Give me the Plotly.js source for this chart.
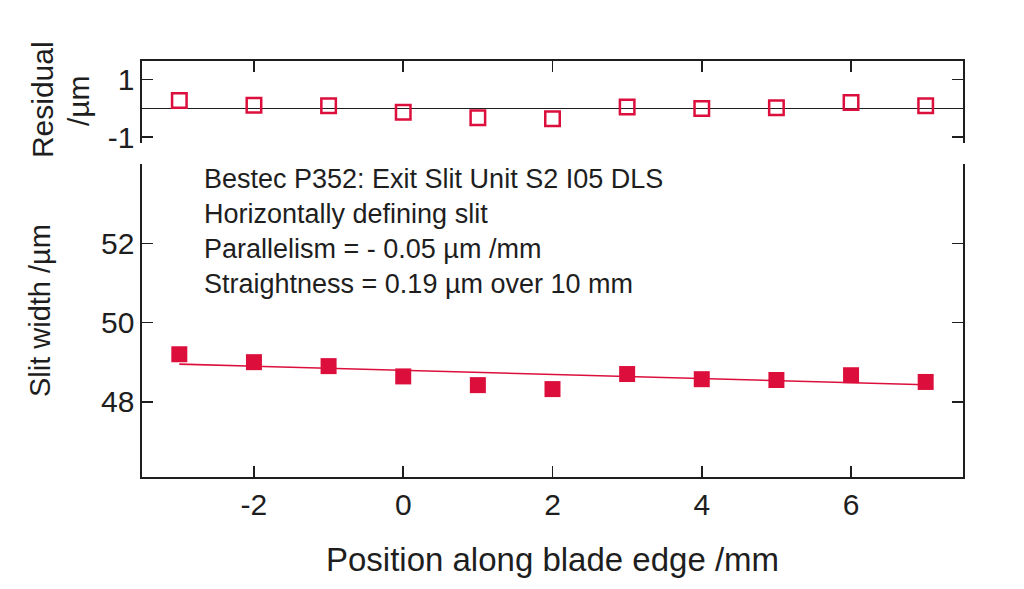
<!DOCTYPE html>
<html>
<head>
<meta charset="utf-8">
<script src="https://cdn.plot.ly/plotly-3.0.1.min.js"></script>
<style>html,body{margin:0;padding:0;background:#fff;}#chart{width:1024px;height:589px;}</style>
</head>
<body>
<div id="chart"></div>
<script>
// Data
const positions = [-3, -2, -1, 0, 1, 2, 3, 4, 5, 6, 7];
const slitWidth = [49.2, 49.0, 48.9, 48.64, 48.42, 48.32, 48.70, 48.57, 48.55, 48.67, 48.50];
const residual = [0.28, 0.11, 0.09, -0.13, -0.32, -0.36, 0.05, 0.0, 0.02, 0.21, 0.09];
const fitX = [-3, 7];
const fitY = [48.95, 48.43];
const xTicks = [-2, 0, 2, 4, 6];
const xTickText = ["-2", "0", "2", "4", "6"];
const slitTicks = [48, 50, 52];
const slitTickText = ["48", "50", "52"];
const residualTicks = [-1, 1];
const residualTickText = ["-1", "1"];
const infoLines = [
  "Bestec P352: Exit Slit Unit S2 I05 DLS",
  "Horizontally defining slit",
  "Parallelism = - 0.05 µm /mm",
  "Straightness = 0.19 µm over 10 mm"
];

const red = "#dc0f3c";
const ink = "#1e1e1e";
const fam = "Liberation Sans, Arial, sans-serif";

const traces = [
  {x: fitX, y: fitY, type: "scatter", mode: "lines", line: {color: red, width: 1.6},
   xaxis: "x", yaxis: "y", hoverinfo: "skip"},
  {x: positions, y: slitWidth, type: "scatter", mode: "markers",
   marker: {symbol: "square", size: 16, color: red, line: {width: 0}},
   xaxis: "x", yaxis: "y"},
  {x: positions, y: residual, type: "scatter", mode: "markers",
   marker: {symbol: "square-open", size: 14.5, color: red, line: {color: red, width: 2.5}},
   xaxis: "x2", yaxis: "y2"}
];

const axisCommon = {
  showgrid: false, showline: true, linecolor: ink, linewidth: 1.6,
  ticks: "inside", ticklen: 11, tickwidth: 1.6, tickcolor: ink,
  tickfont: {family: fam, size: 30, color: ink}, zeroline: false
};

const layout = {
  width: 1024, height: 589,
  margin: {l: 142, r: 61, t: 61, b: 112},
  paper_bgcolor: "#fff", plot_bgcolor: "#fff",
  showlegend: false,
  xaxis: Object.assign({}, axisCommon, {
    range: [-3.5, 7.5], tickvals: xTicks, ticktext: xTickText, anchor: "y", domain: [0, 1],
    title: {text: "Position along blade edge /mm", font: {family: fam, size: 33, color: ink}, standoff: 28}
  }),
  yaxis: Object.assign({}, axisCommon, {
    range: [46.1, 54.0], tickvals: slitTicks, ticktext: slitTickText, domain: [0, 0.752], anchor: "x", mirror: "ticks"
  }),
  xaxis2: Object.assign({}, axisCommon, {
    range: [-3.5, 7.5], tickvals: xTicks, anchor: "y2", side: "top", showticklabels: false, domain: [0, 1]
  }),
  yaxis2: Object.assign({}, axisCommon, {
    range: [-1.2, 1.65], tickvals: residualTicks, ticktext: residualTickText, domain: [0.803, 1], anchor: "x2", mirror: "ticks",
    zeroline: true, zerolinecolor: ink, zerolinewidth: 1.4
  }),
  annotations: [
    {xref: "paper", yref: "paper", x: 0.073, y: 0.758, xanchor: "left", yanchor: "top",
     align: "left", showarrow: false, text: infoLines.join("<br>"),
     font: {family: fam, size: 27, color: ink}},
    {xref: "paper", yref: "paper", x: -0.1242, y: 0.399, xanchor: "center", yanchor: "middle",
     textangle: -90, showarrow: false, text: "Slit width /µm",
     font: {family: fam, size: 29, color: ink}},
    {xref: "paper", yref: "paper", x: -0.1218, y: 0.906, xanchor: "center", yanchor: "middle",
     textangle: -90, showarrow: false, text: "Residual",
     font: {family: fam, size: 30, color: ink}},
    {xref: "paper", yref: "paper", x: -0.0780, y: 0.906, xanchor: "center", yanchor: "middle",
     textangle: -90, showarrow: false, text: "/µm",
     font: {family: fam, size: 30, color: ink}}
  ]
};

Plotly.newPlot("chart", traces, layout, {staticPlot: true, displayModeBar: false});
</script>
</body>
</html>
